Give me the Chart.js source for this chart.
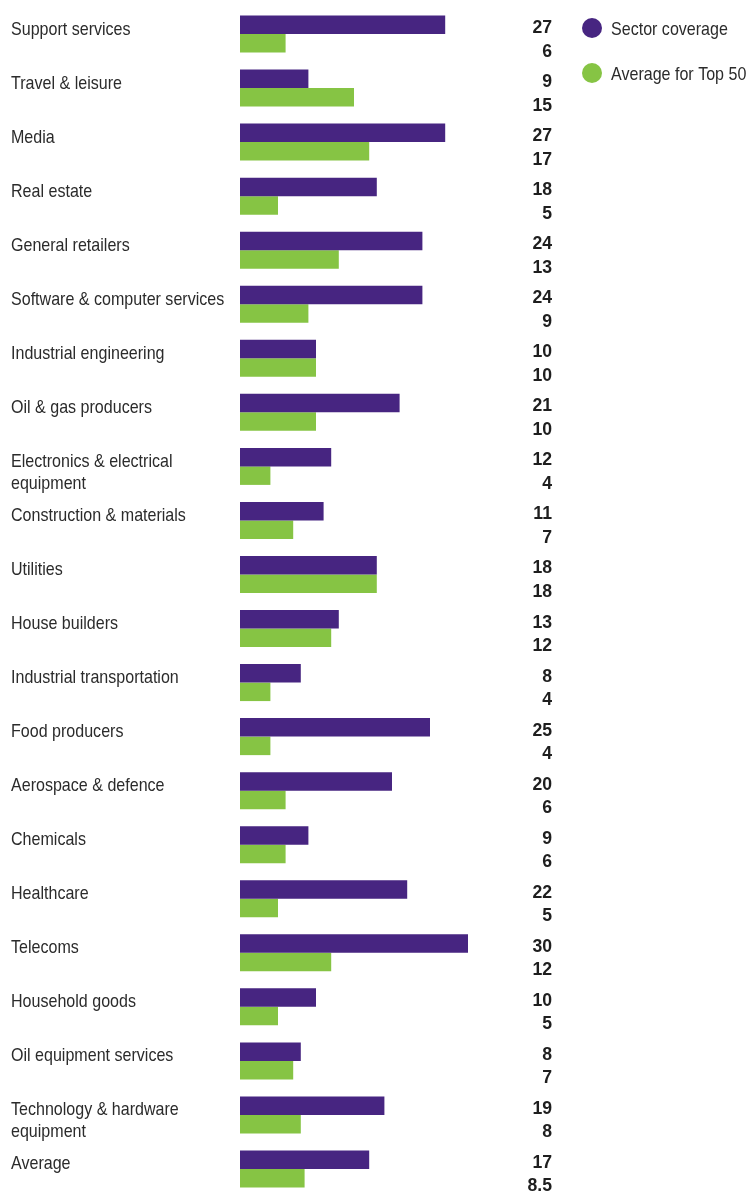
<!DOCTYPE html>
<html>
<head>
<meta charset="utf-8">
<script src="https://cdn.jsdelivr.net/npm/chart.js@4.4.0/dist/chart.umd.min.js"></script>
<style>
  html, body { margin: 0; padding: 0; background: #fff; overflow: hidden; }
  #wrap { position: relative; width: 749px; height: 1196px; }
</style>
</head>
<body>
<div id="wrap"><canvas id="myChart"></canvas></div>
<script>
// Sector names (arrays = wrapped onto two lines)
var categories = [
    "Support services",
    "Travel & leisure",
    "Media",
    "Real estate",
    "General retailers",
    "Software & computer services",
    "Industrial engineering",
    "Oil & gas producers",
    ["Electronics & electrical", "equipment"],
    "Construction & materials",
    "Utilities",
    "House builders",
    "Industrial transportation",
    "Food producers",
    "Aerospace & defence",
    "Chemicals",
    "Healthcare",
    "Telecoms",
    "Household goods",
    "Oil equipment services",
    ["Technology & hardware", "equipment"],
    "Average"
];

var sectorCoverage = [27, 9, 27, 18, 24, 24, 10, 21, 12, 11, 18, 13, 8, 25, 20, 9, 22, 30, 10, 8, 19, 17];
var top50Average = [6, 15, 17, 5, 13, 9, 10, 10, 4, 7, 18, 12, 4, 4, 6, 6, 5, 12, 5, 7, 8, 8.5];

var purple = "#472581";
var green = "#86c444";
var labelFont = "19px 'Liberation Sans', Arial, sans-serif";
var valueFont = "bold 18px 'Liberation Sans', Arial, sans-serif";

// no narrow font installed, so squeeze the text horizontally
function narrowText(ctx, text, x, y, squeeze) {
    ctx.save();
    ctx.translate(x, y);
    ctx.scale(squeeze, 1);
    ctx.fillText(text, 0, 0);
    ctx.restore();
}

// Draws sector names, value column and the legend
var textPlugin = {
    id: "textPlugin",
    afterDatasetsDraw: function(chart) {
        var ctx = chart.ctx;
        var yScale = chart.scales.y;
        ctx.save();
        ctx.textBaseline = "alphabetic";

        for (var i = 0; i < categories.length; i++) {
            var cy = yScale.getPixelForValue(i);
            var lines = Array.isArray(categories[i]) ? categories[i] : [categories[i]];

            ctx.font = labelFont;
            ctx.fillStyle = "#2b2b2b";
            ctx.textAlign = "left";
            for (var j = 0; j < lines.length; j++) {
                narrowText(ctx, lines[j], 11, cy + 0.5 + j * 22, 0.845);
            }

            ctx.font = valueFont;
            ctx.fillStyle = "#1e1e1e";
            ctx.textAlign = "right";
            narrowText(ctx, String(sectorCoverage[i]), 552, cy - 1, 0.98);
            narrowText(ctx, String(top50Average[i]), 552, cy + 22.5, 0.98);
        }

        // legend
        var items = chart.data.datasets;
        for (var k = 0; k < items.length; k++) {
            var ly = 28 + k * 45;
            ctx.beginPath();
            ctx.arc(592, ly, 10, 0, Math.PI * 2);
            ctx.fillStyle = items[k].backgroundColor;
            ctx.fill();
            ctx.font = labelFont;
            ctx.fillStyle = "#2b2b2b";
            ctx.textAlign = "left";
            narrowText(ctx, items[k].label, 611, ly + 7, 0.845);
        }
        ctx.restore();
    }
};

var ctx = document.getElementById("myChart").getContext("2d");
var myChart = new Chart(ctx, {
    type: "bar",
    data: {
        labels: categories,
        datasets: [
            {
                label: "Sector coverage",
                data: sectorCoverage,
                backgroundColor: purple,
                categoryPercentage: 0.685,
                barPercentage: 1
            },
            {
                label: "Average for Top 50",
                data: top50Average,
                backgroundColor: green,
                categoryPercentage: 0.685,
                barPercentage: 1
            }
        ]
    },
    options: {
        indexAxis: "y",
        responsive: true,
        maintainAspectRatio: false,
        animation: false,
        layout: {
            padding: { left: 240, right: 281, top: 7, bottom: 0 }
        },
        plugins: {
            legend: { display: false },
            tooltip: { enabled: false }
        },
        scales: {
            x: {
                display: false,
                min: 0,
                max: 30
            },
            y: {
                display: false
            }
        }
    },
    plugins: [textPlugin]
});
</script>
</body>
</html>
